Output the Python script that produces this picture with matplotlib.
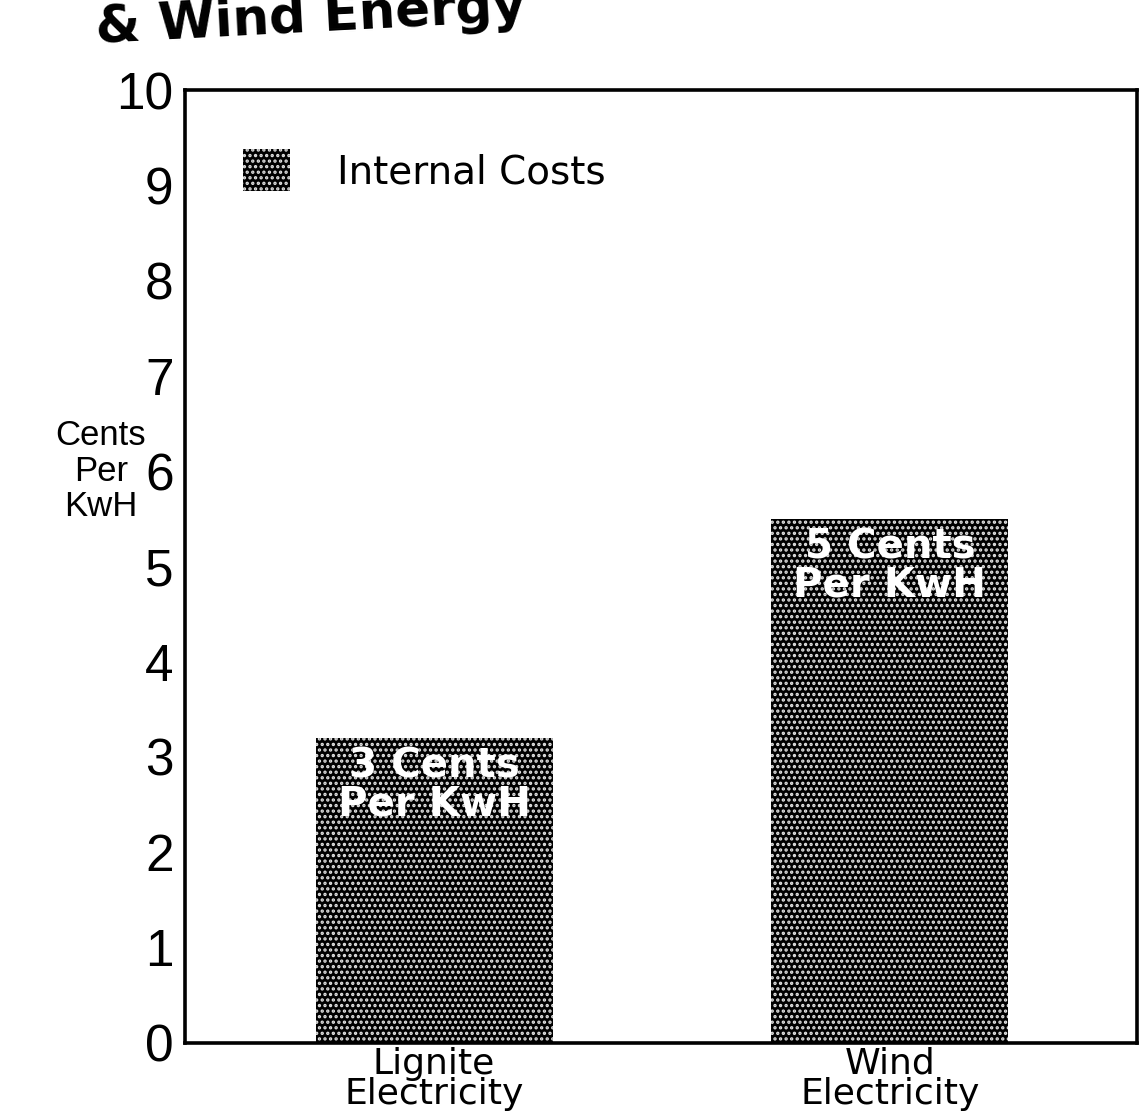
#!/usr/bin/env python3
"""Internal cost of lignite vs wind electricity (cents per kWh)."""
import matplotlib
matplotlib.use("Agg")
import matplotlib.pyplot as plt
from matplotlib.patches import Patch

plt.rcParams.update({
    "font.family": "Liberation Sans",
    "hatch.linewidth": 1.6,
})

categories = ["Lignite\nElectricity", "Wind\nElectricity"]
internal_costs = [3.2, 5.5]
bar_labels = ["3 Cents\nPer KwH", "5 Cents\nPer KwH"]
y_ticks = [0, 1, 2, 3, 4, 5, 6, 7, 8, 9, 10]

BAR = "black"
SPECK = "#e2e2e2"

fig = plt.figure(figsize=(11.4, 11.14), dpi=100)
ax = fig.add_axes([0.162, 0.064, 0.835, 0.855])

x = list(range(len(categories)))
ax.bar(x, internal_costs, 0.52, color=BAR, edgecolor=SPECK, linewidth=0,
       hatch="...")
for xi, val, lab in zip(x, internal_costs, bar_labels):
    ax.annotate(lab, (xi, val), textcoords="offset points", xytext=(0, -6),
                ha="center", va="top", color="white", fontsize=29,
                fontweight="bold", family="DejaVu Sans", linespacing=0.95)

ax.set_xlim(-0.547, 1.541)
ax.set_ylim(0, 10)
ax.set_yticks(y_ticks)
ax.set_yticklabels([str(t) for t in y_ticks], fontsize=37)
ax.set_xticks(x)
ax.set_xticklabels(categories, fontsize=26, family="DejaVu Sans",
                   linespacing=0.85)
ax.tick_params(axis="both", length=0)
ax.tick_params(axis="y", pad=8)
ax.tick_params(axis="x", pad=3)
for sp in ax.spines.values():
    sp.set_linewidth(2.6)

ax.set_ylabel("Cents\nPer\nKwH", rotation=0, fontsize=25, ha="center",
              va="center", linespacing=1.1)
ax.yaxis.set_label_coords(-0.088, 0.6)

handle = Patch(facecolor=BAR, edgecolor=SPECK, linewidth=0, hatch="...")
ax.legend([handle], ["Internal Costs"], loc="upper left",
          bbox_to_anchor=(0.025, 0.975), frameon=False, handlelength=1.2,
          handleheight=1.3, handletextpad=1.2,
          prop={"family": "DejaVu Sans", "size": 28})

# title is cut off by the top edge of the scan
fig.text(0.083, 0.961, "& Wind Energy", fontsize=37, fontweight="bold",
         family="DejaVu Sans", rotation=3, ha="left", va="baseline")

fig.savefig("out.png", dpi=100)
